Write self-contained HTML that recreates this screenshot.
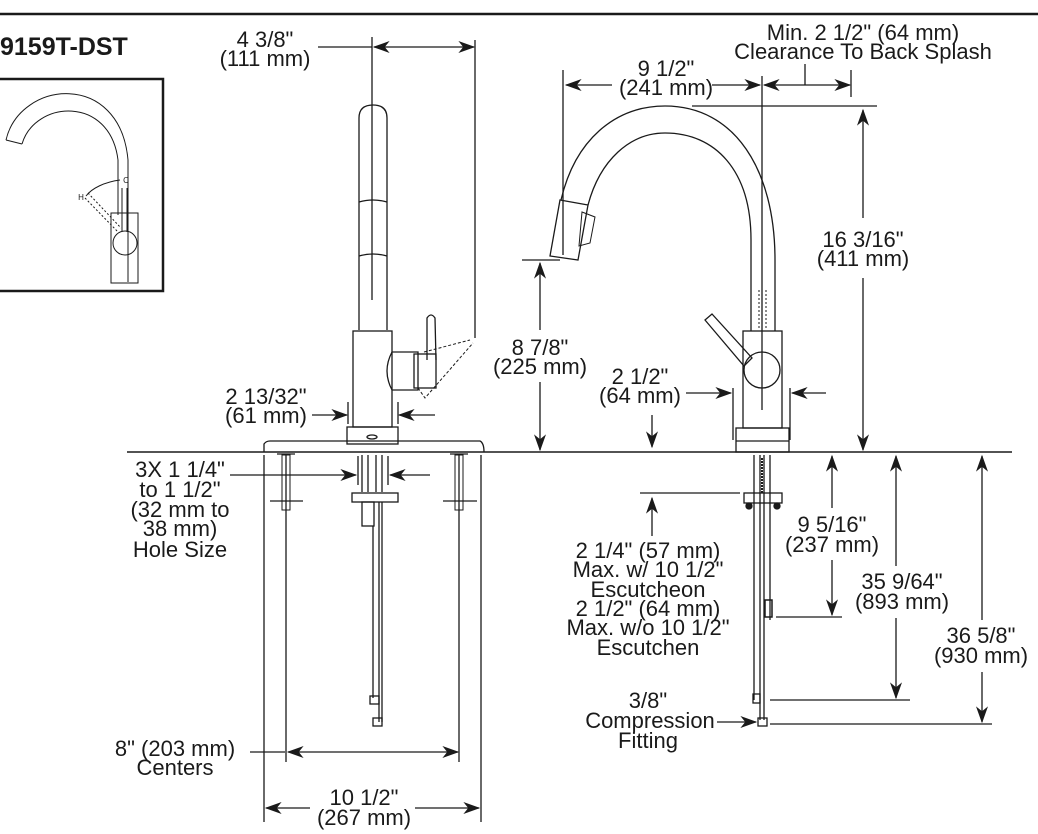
<!DOCTYPE html>
<html><head><meta charset="utf-8"><style>
html,body{margin:0;padding:0;background:#fff;}
svg{display:block;}
text{font-family:"Liberation Sans",sans-serif;font-size:22px;fill:#1a1a1a;text-anchor:middle;}
</style></head><body>
<svg width="1038" height="834" viewBox="0 0 1038 834" xmlns="http://www.w3.org/2000/svg">
<defs>
<marker id="a" viewBox="0 0 14 10" refX="13" refY="5" markerWidth="18" markerHeight="12" markerUnits="userSpaceOnUse" orient="auto-start-reverse">
<path d="M0,0 L14,5 L0,10 L4,5 Z" fill="#1a1a1a"/></marker>
</defs>
<g stroke="#1a1a1a" fill="none" stroke-width="1.3">
<line x1="0" y1="14" x2="1038" y2="14" stroke-width="2.5"/>
<rect x="-2" y="79" width="165" height="212" stroke-width="2.5"/>
<path d="M6,140 C20,80 120,70 128,160 L128,282" stroke-width="1"/>
<path d="M22,144 C35,100 110,95 118,160 L118,215" stroke-width="1"/>
<line x1="6" y1="140" x2="22" y2="144" stroke-width="1"/>
<rect x="111" y="213" width="27" height="70" stroke-width="1"/>
<circle cx="125" cy="243" r="12" stroke-width="1"/>
<line x1="122" y1="188" x2="122" y2="232" stroke-width="1"/><line x1="127" y1="188" x2="127" y2="232" stroke-width="1"/>
<path d="M85,198 L118,232 M88,193 L121,228" stroke-dasharray="2,2" stroke-width="1"/>
<path d="M120,180 C105,182 92,188 86,196" stroke-width="1"/>
<line x1="127" y1="452" x2="1012" y2="452" stroke-width="1.6"/>

<path d="M359,330 L359,118 Q359,105 373,105 Q387,105 387,118 L387,330"/>
<path d="M359,202 Q373,198 387,202 M359,256 Q373,252 387,256"/>
<rect x="353" y="331" width="39" height="96"/>
<rect x="347" y="427" width="51" height="17"/>
<ellipse cx="372" cy="437" rx="5" ry="2"/>
<path d="M392,352 L418,352 L418,390 L392,390 Q382,371 392,352 Z"/>
<rect x="414" y="354" width="22" height="34"/>
<path d="M427,360 L427,318 Q431,312 435,318 L436,360"/>
<path d="M418,388 L425,398 L473,343 M424,352 L470,340" stroke-dasharray="3,2" stroke-width="1"/>
<path d="M264,452 L264,444 Q266,441 270,441 L480,441 Q484,443 484,452"/>
<line x1="372" y1="37" x2="372" y2="300"/>
<line x1="475" y1="40" x2="475" y2="338"/>
<line x1="318" y1="47" x2="372" y2="47"/>
<line x1="374" y1="47" x2="474" y2="47" marker-start="url(#a)" marker-end="url(#a)"/>
<line x1="348" y1="402" x2="348" y2="424"/><line x1="398" y1="402" x2="398" y2="424"/>
<line x1="312" y1="415" x2="347" y2="415" marker-end="url(#a)"/>
<line x1="435" y1="415" x2="399" y2="415" marker-end="url(#a)"/>
<line x1="264" y1="455" x2="264" y2="822"/><line x1="481" y1="455" x2="481" y2="822"/>
<line x1="286" y1="455" x2="286" y2="762"/><line x1="459" y1="455" x2="459" y2="762"/>
<rect x="282" y="455" width="8" height="55" stroke-width="1"/><rect x="455" y="455" width="8" height="55" stroke-width="1"/>
<line x1="270" y1="501" x2="303" y2="501"/><line x1="443" y1="501" x2="477" y2="501"/>
<line x1="277" y1="454" x2="295" y2="454"/><line x1="450" y1="454" x2="468" y2="454"/>
<line x1="362" y1="455" x2="362" y2="492"/><line x1="368" y1="455" x2="368" y2="492"/><line x1="376" y1="455" x2="376" y2="492"/><line x1="382" y1="455" x2="382" y2="492"/>
<rect x="352" y="493" width="46" height="9"/>
<rect x="362" y="502" width="12" height="24"/>
<line x1="373" y1="526" x2="373" y2="698"/><line x1="379" y1="502" x2="379" y2="722"/><line x1="382" y1="502" x2="382" y2="722"/>
<rect x="370" y="696" width="9" height="8"/><rect x="373" y="718" width="9" height="8"/>
<line x1="358" y1="456" x2="358" y2="485"/><line x1="388" y1="456" x2="388" y2="485"/>
<line x1="230" y1="475" x2="356" y2="475" marker-end="url(#a)"/>
<line x1="430" y1="475" x2="390" y2="475" marker-end="url(#a)"/>
<line x1="250" y1="752" x2="285" y2="752"/>
<line x1="288" y1="752" x2="458" y2="752" marker-start="url(#a)" marker-end="url(#a)"/>
<line x1="266" y1="808" x2="310" y2="808" marker-start="url(#a)"/>
<line x1="415" y1="808" x2="479" y2="808" marker-end="url(#a)"/>

<path d="M561,200 C575,140 615,106 665,106 C735,106 775,170 775,260 L775,331"/>
<path d="M588,205 C600,160 630,133 665,133 C715,133 751,170 751,240 L751,331"/>
<path d="M560,200 L588,205 L578,260 L550,256 Z"/>
<path d="M582,212 L595,217 L590,243 L579,246 Z" stroke-width="1"/>
<line x1="762" y1="76" x2="762" y2="410"/>
<line x1="759" y1="290" x2="759" y2="330" stroke-dasharray="2,2" stroke-width="1"/>
<line x1="766" y1="290" x2="766" y2="330" stroke-dasharray="2,2" stroke-width="1"/>
<rect x="743" y="331" width="39" height="97"/>
<circle cx="762" cy="370" r="18"/>
<path d="M705,320 L712,314 L752,358 L744,366 Z"/>
<rect x="736" y="428" width="53" height="24"/>
<line x1="736" y1="441" x2="789" y2="441"/>
<line x1="563" y1="70" x2="563" y2="255"/>
<line x1="566" y1="85" x2="612" y2="85" marker-start="url(#a)"/>
<line x1="712" y1="85" x2="760" y2="85" marker-end="url(#a)"/>
<line x1="764" y1="85" x2="850" y2="85" marker-start="url(#a)" marker-end="url(#a)"/>
<line x1="805" y1="64" x2="805" y2="85"/>
<line x1="851" y1="70" x2="851" y2="97"/>
<line x1="692" y1="106" x2="877" y2="106"/>
<line x1="863" y1="110" x2="863" y2="218" marker-start="url(#a)"/>
<line x1="863" y1="278" x2="863" y2="450" marker-end="url(#a)"/>
<line x1="522" y1="260" x2="560" y2="260"/>
<line x1="540" y1="263" x2="540" y2="330" marker-start="url(#a)"/>
<line x1="540" y1="382" x2="540" y2="450" marker-end="url(#a)"/>
<line x1="733" y1="388" x2="733" y2="440"/><line x1="790" y1="388" x2="790" y2="440"/>
<line x1="686" y1="393" x2="731" y2="393" marker-end="url(#a)"/>
<line x1="826" y1="393" x2="792" y2="393" marker-end="url(#a)"/>
<line x1="652" y1="415" x2="652" y2="447" marker-end="url(#a)"/>
<line x1="754" y1="455" x2="754" y2="700"/><line x1="760" y1="455" x2="760" y2="720"/>
<line x1="764" y1="455" x2="764" y2="720"/><line x1="770" y1="455" x2="770" y2="620"/>
<line x1="762" y1="458" x2="762" y2="493" stroke-dasharray="2,1" stroke-width="2"/>
<rect x="744" y="493" width="38" height="10"/>
<circle cx="749" cy="506" r="3" fill="#1a1a1a"/><circle cx="777" cy="506" r="3" fill="#1a1a1a"/>
<rect x="765" y="600" width="7" height="17" stroke-width="1.5"/>
<rect x="753" y="694" width="7" height="9"/><rect x="758" y="718" width="9" height="8"/>
<line x1="640" y1="493" x2="740" y2="493"/>
<line x1="652" y1="536" x2="652" y2="498" marker-end="url(#a)"/>
<line x1="776" y1="617" x2="842" y2="617"/>
<line x1="832" y1="456" x2="832" y2="508" marker-start="url(#a)"/>
<line x1="832" y1="560" x2="832" y2="615" marker-end="url(#a)"/>
<line x1="770" y1="700" x2="910" y2="700"/>
<line x1="896" y1="456" x2="896" y2="566" marker-start="url(#a)"/>
<line x1="896" y1="618" x2="896" y2="698" marker-end="url(#a)"/>
<line x1="770" y1="724" x2="992" y2="724"/>
<line x1="982" y1="456" x2="982" y2="620" marker-start="url(#a)"/>
<line x1="982" y1="672" x2="982" y2="722" marker-end="url(#a)"/>
<line x1="717" y1="722" x2="756" y2="722" marker-end="url(#a)"/>
</g>

<text x="0" y="55" style="font-weight:bold;font-size:25px;text-anchor:start">9159T-DST</text>
<text x="126" y="183" style="font-size:8px">C</text>
<text x="81" y="200" style="font-size:8px">H</text>
<text x="265" y="47">4 3/8"</text><text x="265" y="66">(111 mm)</text>
<text x="266" y="404">2 13/32"</text><text x="266" y="423">(61 mm)</text>
<text x="180" y="477">3X 1 1/4"</text><text x="180" y="497">to 1 1/2"</text><text x="180" y="517">(32 mm to</text><text x="180" y="536">38 mm)</text><text x="180" y="557">Hole Size</text>
<text x="175" y="756">8" (203 mm)</text><text x="175" y="775">Centers</text>
<text x="364" y="805">10 1/2"</text><text x="364" y="825">(267 mm)</text>
<text x="863" y="40">Min. 2 1/2" (64 mm)</text><text x="863" y="59">Clearance To Back Splash</text>
<text x="666" y="76">9 1/2"</text><text x="666" y="95">(241 mm)</text>
<text x="863" y="247">16 3/16"</text><text x="863" y="266">(411 mm)</text>
<text x="540" y="355">8 7/8"</text><text x="540" y="374">(225 mm)</text>
<text x="640" y="384">2 1/2"</text><text x="640" y="403">(64 mm)</text>
<text x="832" y="532">9 5/16"</text><text x="832" y="552">(237 mm)</text>
<text x="902" y="589">35 9/64"</text><text x="902" y="609">(893 mm)</text>
<text x="981" y="643">36 5/8"</text><text x="981" y="663">(930 mm)</text>
<text x="648" y="558">2 1/4" (57 mm)</text><text x="648" y="577">Max. w/ 10 1/2"</text><text x="648" y="597">Escutcheon</text>
<text x="648" y="616">2 1/2" (64 mm)</text><text x="648" y="635">Max. w/o 10 1/2"</text><text x="648" y="655">Escutchen</text>
<text x="648" y="708">3/8"</text><text x="650" y="728">Compression</text><text x="648" y="748">Fitting</text>
</svg>
</body></html>
